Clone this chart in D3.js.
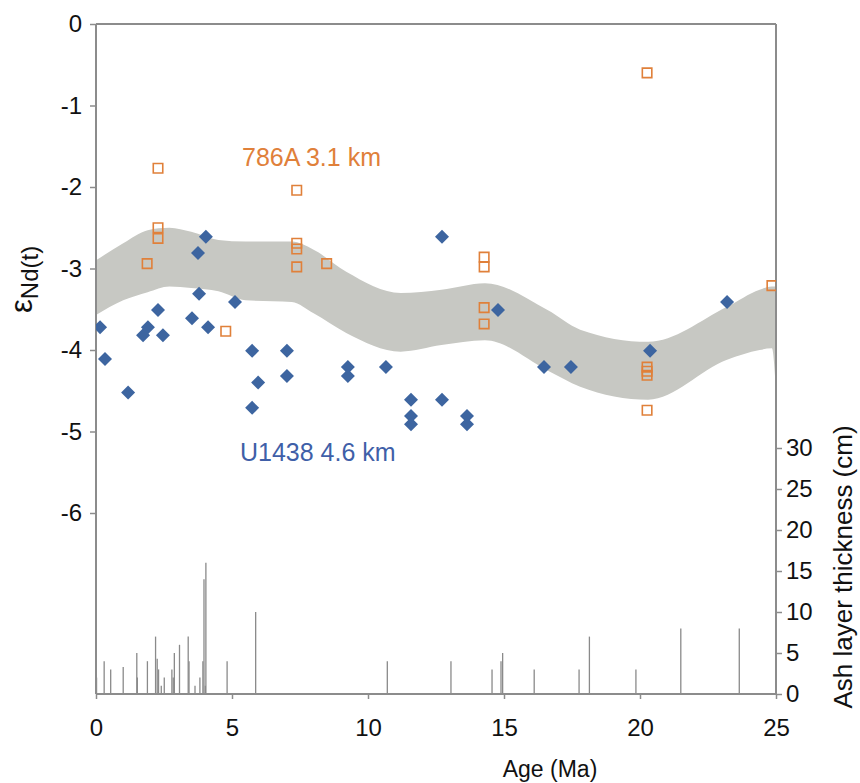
<!DOCTYPE html>
<html>
<head>
<meta charset="utf-8">
<script src="https://cdn.jsdelivr.net/npm/d3@7"></script>
<style>
  body { margin: 0; background: #fff; }
  svg text { font-family: "Liberation Sans", Arial, sans-serif; }
</style>
</head>
<body>
<svg id="chart"></svg>
<script>
// ---------------- data ----------------
// U1438 (4.6 km) diamonds: age (Ma), eNd(t)
let u1438Age = [0.15, 0.33, 1.18, 1.73, 1.91, 2.28, 2.46, 3.53, 3.75, 3.79, 4.04, 4.12, 5.11,
                5.74, 5.74, 5.96, 7.02, 7.02, 9.26, 9.26, 10.66, 11.58, 11.58, 11.58,
                12.72, 12.72, 13.64, 13.64, 14.78, 16.47, 17.46, 20.37, 23.2];
let u1438Nd = [-3.72, -4.11, -4.52, -3.82, -3.72, -3.51, -3.82, -3.61, -2.81, -3.31, -2.61, -3.72, -3.41,
               -4.01, -4.71, -4.40, -4.01, -4.32, -4.21, -4.32, -4.21, -4.61, -4.81, -4.91,
               -2.61, -4.61, -4.81, -4.91, -3.51, -4.21, -4.21, -4.01, -3.41];

// 786A (3.1 km) open squares
let s786Age = [1.88, 2.28, 2.28, 2.28, 4.77, 7.38, 7.38, 7.38, 7.38, 8.48,
               14.27, 14.27, 14.27, 14.27, 20.26, 20.26, 20.26, 20.26, 20.26, 24.85];
let s786Nd = [-2.94, -1.77, -2.50, -2.63, -3.77, -2.04, -2.69, -2.76, -2.98, -2.94,
              -2.86, -2.98, -3.48, -3.68, -0.60, -4.21, -4.26, -4.31, -4.74, -3.21];

// grey envelope
let bandAge   = [0, 1, 1.9, 2.7, 3.5, 4.5, 5.5, 7.2, 8, 9.2, 11.2, 12.7, 14.3, 16.6, 17.8, 20.3, 23.2, 24.4, 24.85, 25];
let bandUpper = [-2.9, -2.69, -2.53, -2.5, -2.55, -2.65, -2.67, -2.67, -2.77, -3.04, -3.30, -3.26, -3.18, -3.51, -3.75, -3.90, -3.47, -3.26, -3.22, -3.22];
let bandLower = [-3.57, -3.39, -3.29, -3.22, -3.24, -3.28, -3.39, -3.41, -3.55, -3.79, -4.02, -3.94, -3.88, -4.25, -4.45, -4.61, -4.12, -4.0, -3.98, -4.5];

// ash layers: age (Ma), thickness (cm)
let ashAge = [0.02, 0.3, 0.54, 1.0, 1.5, 1.52, 1.89, 2.19, 2.25, 2.3, 2.4, 2.51, 2.79, 2.84, 2.88,
              3.07, 3.39, 3.42, 3.64, 3.82, 3.93, 3.97, 4.02, 4.04, 4.82, 5.87, 10.71,
              13.05, 14.56, 14.89, 14.95, 16.11, 17.76, 18.14, 19.85, 21.5, 23.65];
let ashCm = [2, 4, 3, 3.3, 5, 2, 4, 7, 4.3, 3, 1, 2, 3, 2, 5,
             6, 7, 4, 1, 2, 4, 14, 1, 16, 4, 10, 4,
             4, 3, 4, 5, 3, 3, 7, 3, 8, 8];

let ndTicks = [0, -1, -2, -3, -4, -5, -6];
let ageTicks = [0, 5, 10, 15, 20, 25];
let ashTicks = [0, 5, 10, 15, 20, 25, 30];

// ---------------- setup ----------------
let w = 860, h = 783;
let pLeft = 96, pRight = 776, pTop = 24, pBottom = 694;
let axisColor = '#8c8c8c';
let blue = '#3d65a0';
let orange = '#e0803a';

let svg = d3.select('#chart').attr('width', w).attr('height', h);

let xScale = d3.scaleLinear().domain([0, 25]).range([pLeft, pRight]);
let yScale = d3.scaleLinear().domain([-6, 0]).range([513, pTop]);
let ashScale = d3.scaleLinear().domain([0, 30]).range([pBottom, 448]);

svg.append('clipPath').attr('id', 'plotclip')
  .append('rect').attr('x', pLeft).attr('y', pTop).attr('width', pRight - pLeft).attr('height', pBottom - pTop);

// band
let band = bandAge.map((a, i) => ({age: a, up: bandUpper[i], lo: bandLower[i]}));
svg.append('path')
  .datum(band)
  .attr('fill', '#c7c8c3')
  .attr('d', d3.area()
    .x(d => xScale(d.age))
    .y0(d => yScale(d.lo))
    .y1(d => yScale(d.up))
    .curve(d3.curveMonotoneX));

// ash bars
svg.append('g').selectAll('line')
  .data(ashAge.map((a, i) => ({age: a, cm: ashCm[i]})))
  .enter().append('line')
  .attr('x1', d => xScale(d.age)).attr('x2', d => xScale(d.age))
  .attr('y1', pBottom).attr('y2', d => ashScale(d.cm))
  .attr('stroke', '#8a8a8a').attr('stroke-width', 1.3);

// frame
let frame = svg.append('g').attr('stroke', axisColor).attr('stroke-width', 2).attr('fill', 'none');
frame.append('line').attr('x1', pLeft).attr('x2', pRight).attr('y1', pTop).attr('y2', pTop);
frame.append('line').attr('x1', pLeft).attr('x2', pLeft).attr('y1', pTop).attr('y2', pBottom);
frame.append('line').attr('x1', pRight).attr('x2', pRight).attr('y1', pTop).attr('y2', pBottom);
frame.append('line').attr('x1', pLeft).attr('x2', pRight).attr('y1', pBottom).attr('y2', pBottom);

function styleAxis(g) {
  g.select('.domain').remove();
  g.selectAll('.tick line').attr('stroke', axisColor).attr('stroke-width', 1.5);
  g.selectAll('.tick text').attr('fill', '#111').style('font-size', '24px');
}

svg.append('g').attr('transform', `translate(${pLeft},0)`)
  .call(d3.axisLeft(yScale).tickValues(ndTicks).tickSize(6).tickPadding(8).tickFormat(d => String(d)))
  .call(styleAxis);

svg.append('g').attr('transform', `translate(0,${pBottom})`)
  .call(d3.axisBottom(xScale).tickValues(ageTicks).tickSize(5).tickPadding(20))
  .call(styleAxis);

svg.append('g').attr('transform', `translate(${pRight},0)`)
  .call(d3.axisRight(ashScale).tickValues(ashTicks).tickSize(6).tickPadding(4))
  .call(styleAxis);

// points
let pts = svg.append('g').attr('clip-path', 'url(#plotclip)');
pts.selectAll('path.sq')
  .data(s786Age.map((a, i) => ({age: a, nd: s786Nd[i]})))
  .enter().append('path')
  .attr('class', 'sq')
  .attr('d', d3.symbol(d3.symbolSquare, 90))
  .attr('transform', d => `translate(${xScale(d.age)},${yScale(d.nd)})`)
  .attr('fill', 'none').attr('stroke', orange).attr('stroke-width', 1.6);

pts.selectAll('path.dm')
  .data(u1438Age.map((a, i) => ({age: a, nd: u1438Nd[i]})))
  .enter().append('path')
  .attr('class', 'dm')
  .attr('d', d3.symbol(d3.symbolSquare, 98))
  .attr('transform', d => `translate(${xScale(d.age)},${yScale(d.nd)}) rotate(45)`)
  .attr('fill', blue);

// labels
svg.append('text').attr('x', 242).attr('y', 166).attr('fill', orange)
  .style('font-size', '25px').text('786A 3.1 km');
svg.append('text').attr('x', 240).attr('y', 461).attr('fill', '#3f5fa8')
  .style('font-size', '25px').text('U1438 4.6 km');

svg.append('text').attr('x', 550).attr('y', 777).attr('text-anchor', 'middle')
  .attr('fill', '#111').style('font-size', '23px').text('Age (Ma)');

svg.append('text').attr('transform', 'translate(852,567) rotate(-90)').attr('text-anchor', 'middle')
  .attr('fill', '#111').style('font-size', '26px').text('Ash layer thickness (cm)');

let yl = svg.append('text').attr('transform', 'translate(32,313) rotate(-90)')
  .attr('fill', '#111');
yl.append('tspan').style('font-size', '31px').text('ε');
yl.append('tspan').style('font-size', '24px').attr('dy', 6).text('Nd(t)');
</script>
</body>
</html>
